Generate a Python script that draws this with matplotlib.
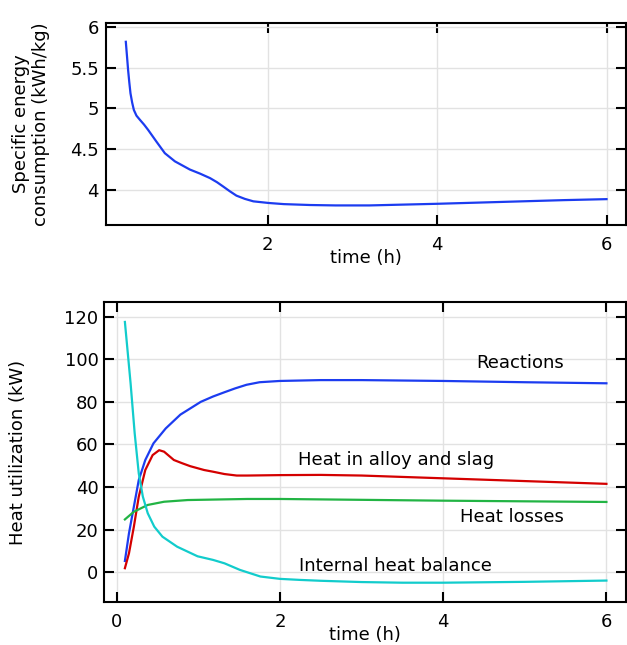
import matplotlib
matplotlib.use("Agg")
import matplotlib.pyplot as plt

# ---- data ----
t_sec = [0.324, 0.337, 0.351, 0.365, 0.379, 0.399, 0.419, 0.45, 0.49, 0.54, 0.588, 0.687,
         0.785, 0.904, 1.08, 1.2, 1.318, 1.4, 1.476, 1.55, 1.63, 1.73, 1.83, 2.01, 2.19,
         2.5, 2.8, 3.2, 3.6, 4.0, 4.5, 5.0, 5.5, 6.0]
sec = [5.816, 5.65, 5.47, 5.32, 5.185, 5.07, 4.98, 4.91, 4.86, 4.80, 4.735, 4.59,
       4.45, 4.35, 4.25, 4.20, 4.145, 4.095, 4.04, 3.985, 3.93, 3.89, 3.86, 3.84, 3.826,
       3.815, 3.81, 3.81, 3.82, 3.83, 3.845, 3.86, 3.875, 3.887]

t_react = [0.10, 0.15, 0.21, 0.27, 0.35, 0.45, 0.60, 0.78, 1.03, 1.18, 1.32, 1.45,
           1.59, 1.75, 2.0, 2.5, 3.0, 4.0, 5.0, 6.0]
react = [5.3, 18.3, 30.8, 43.3, 52.7, 60.5, 67.5, 74.0, 80.0, 82.5, 84.5, 86.3,
         88.0, 89.2, 89.8, 90.2, 90.2, 89.8, 89.2, 88.7]

t_alloy = [0.10, 0.15, 0.21, 0.27, 0.35, 0.44, 0.52, 0.58, 0.70, 0.80, 0.90, 1.07,
           1.18, 1.32, 1.47, 1.6, 2.0, 2.5, 3.0, 4.0, 5.0, 6.0]
alloy = [1.9, 8.9, 21.4, 35.5, 48.0, 55.0, 57.3, 56.6, 52.7, 51.2, 49.8, 48.0,
         47.2, 46.1, 45.4, 45.4, 45.6, 45.7, 45.4, 44.1, 42.8, 41.5]

t_loss = [0.10, 0.21, 0.38, 0.58, 0.87, 1.3, 1.6, 2.0, 3.0, 4.0, 5.0, 6.0]
loss = [24.8, 28.4, 31.6, 33.1, 33.9, 34.2, 34.4, 34.4, 34.0, 33.6, 33.3, 33.0]

t_int = [0.10, 0.17, 0.22, 0.27, 0.32, 0.38, 0.46, 0.56, 0.74, 0.99, 1.18, 1.32,
         1.51, 1.76, 2.0, 2.25, 2.5, 3.0, 3.5, 4.0, 5.0, 6.0]
internal = [117.5, 88.6, 65.2, 46.4, 35.5, 27.7, 21.4, 16.7, 12.0, 7.5, 5.8, 4.2,
            1.1, -2.0, -3.1, -3.6, -4.0, -4.6, -4.9, -4.9, -4.5, -3.9]

labels = ["Reactions", "Heat in alloy and slag", "Heat losses", "Internal heat balance"]

top_yticks = [4, 4.5, 5, 5.5, 6]
top_ytick_labels = ["4", "4.5", "5", "5.5", "6"]
top_xticks = [2, 4, 6]
bot_xticks = [0, 2, 4, 6]
bot_yticks = [0, 20, 40, 60, 80, 100, 120]

BLUE = "#1c3cf0"
RED = "#d40000"
GREEN = "#22b444"
CYAN = "#12cccc"

FS = 13
plt.rcParams["font.family"] = "DejaVu Sans"
plt.rcParams["font.size"] = FS

fig = plt.figure(figsize=(6.27, 6.45), dpi=100)
W, H = 627.0, 645.0

def style(ax, ypad):
    ax.tick_params(direction="in", length=7.5, width=1.5, top=True, right=True,
                   labelsize=FS, colors="black")
    ax.tick_params(axis="x", pad=8)
    ax.tick_params(axis="y", pad=ypad)
    for s in ax.spines.values():
        s.set_linewidth(1.5)
    ax.grid(True, color="#e2e2e2", linewidth=1.0)
    ax.set_axisbelow(True)

# top axes
ax1 = fig.add_axes([106 / W, 1 - 225 / H, 520 / W, (225 - 22.7) / H])
ax1.plot(t_sec, sec, color=BLUE, lw=1.6)
ax1.set_xlim(0.09, 6.23)
ax1.set_ylim(3.57, 6.05)
ax1.set_xticks(top_xticks)
ax1.set_yticks(top_yticks)
ax1.set_yticklabels(top_ytick_labels)
style(ax1, 5)
ax1.set_xlabel("time (h)", fontsize=FS)
ax1.xaxis.set_label_coords(0.5, -0.12)
ax1.set_ylabel("Specific energy\nconsumption (kWh/kg)", fontsize=FS, linespacing=1.15)
ax1.yaxis.set_label_coords(-0.108, 0.5)

# bottom axes
ax2 = fig.add_axes([104 / W, 1 - 602.3 / H, 522 / W, (602.3 - 301.7) / H])
ax2.plot(t_react, react, color=BLUE, lw=1.6)
ax2.plot(t_alloy, alloy, color=RED, lw=1.6)
ax2.plot(t_loss, loss, color=GREEN, lw=1.6)
ax2.plot(t_int, internal, color=CYAN, lw=1.6)
ax2.set_xlim(-0.156, 6.24)
ax2.set_ylim(-14.1, 127.0)
ax2.set_xticks(bot_xticks)
ax2.set_yticks(bot_yticks)
style(ax2, 4)
ax2.set_xlabel("time (h)", fontsize=FS)
ax2.xaxis.set_label_coords(0.5, -0.078)
ax2.set_ylabel("Heat utilization (kW)", fontsize=FS)
ax2.yaxis.set_label_coords(-0.147, 0.5)

label_pos = [(4.94, 98.4), (3.42, 52.7), (4.84, 26.1), (3.41, 3.0)]
for txt, (x, y) in zip(labels, label_pos):
    ax2.text(x, y, txt, ha="center", va="center", fontsize=FS)

fig.savefig("out.png", dpi=100)
